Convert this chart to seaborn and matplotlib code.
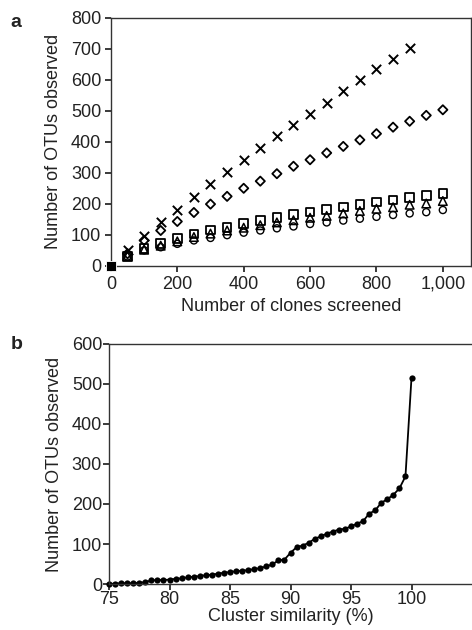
import matplotlib
matplotlib.use('Agg')
import matplotlib.pyplot as plt
import seaborn as sns
import pandas as pd
from matplotlib.ticker import FuncFormatter

# panel a: OTUs vs clones screened
clones = [50, 100, 150, 200, 250, 300, 350, 400, 450, 500,
          550, 600, 650, 700, 750, 800, 850, 900, 950, 1000]
otu_cross = [52, 97, 141, 181, 222, 264, 302, 341, 380, 418,
             453, 491, 526, 563, 598, 633, 667, 701]
otu_diamond = [39, 82, 114, 143, 172, 199, 224, 250, 273, 297,
               321, 342, 364, 385, 406, 426, 447, 466, 485, 503]
otu_square = [30, 56, 72, 88, 102, 115, 124, 136, 146, 155,
              165, 174, 181, 190, 198, 206, 212, 220, 226, 234]
otu_triangle = [32, 52, 65, 79, 93, 104, 114, 123, 131, 140,
                147, 155, 161, 169, 177, 184, 189, 197, 201, 209]
otu_circle = [30, 50, 60, 71, 82, 90, 99, 107, 114, 121,
              127, 135, 140, 146, 152, 158, 164, 169, 173, 180]

# panel b: OTUs vs cluster similarity
similarity = [75, 75.5, 76, 76.5, 77, 77.5, 78, 78.5, 79, 79.5,
              80, 80.5, 81, 81.5, 82, 82.5, 83, 83.5, 84, 84.5,
              85, 85.5, 86, 86.5, 87, 87.5, 88, 88.5, 89, 89.5,
              90, 90.5, 91, 91.5, 92, 92.5, 93, 93.5, 94, 94.5,
              95, 95.5, 96, 96.5, 97, 97.5, 98, 98.5, 99, 99.5, 100]
otu_sim = [0, 1, 2, 2, 2, 3, 5, 9, 10, 10,
           11, 13, 14, 17, 18, 20, 22, 23, 26, 28,
           30, 32, 33, 35, 37, 40, 44, 49, 59, 61,
           78, 92, 96, 103, 113, 119, 126, 131, 136, 138,
           144, 151, 157, 176, 184, 203, 212, 223, 239, 269, 516]

sns.set_theme(style="ticks")
plt.rcParams['font.family'] = ['Liberation Sans', 'DejaVu Sans']
ink = '#222222'
plt.rcParams.update({'text.color': ink, 'axes.labelcolor': ink,
                     'xtick.color': ink, 'ytick.color': ink,
                     'axes.edgecolor': '#333333', 'axes.linewidth': 1.0})
fs = 13

fig = plt.figure(figsize=(4.72, 6.3), dpi=100)
ax1 = fig.add_axes([0.235, 0.578, 0.763, 0.394])
ax2 = fig.add_axes([0.231, 0.073, 0.769, 0.381])

series = [
    (otu_cross, 'x', dict(color='black', linewidth=1.4)),
    (otu_diamond, 'D', dict(facecolor='none', edgecolor='black', linewidth=1.3)),
    (otu_square, 's', dict(facecolor='none', edgecolor='black', linewidth=1.3)),
    (otu_triangle, '^', dict(facecolor='none', edgecolor='black', linewidth=1.1)),
    (otu_circle, 'o', dict(facecolor='none', edgecolor='black', linewidth=1.0)),
]
sizes = {'x': 45, 'D': 22, 's': 38, '^': 38, 'o': 26}
for vals, mk, kw in series:
    df = pd.DataFrame({'clones': clones[:len(vals)], 'otus': vals})
    sns.scatterplot(data=df, x='clones', y='otus', marker=mk, s=sizes[mk],
                    ax=ax1, legend=False, **kw)
sns.scatterplot(x=[0], y=[0], marker='s', s=60, color='black', ax=ax1,
                legend=False, clip_on=False, zorder=5)

ax1.set_xlim(0, 1085)
ax1.set_ylim(0, 800)
ax1.set_xticks([0, 200, 400, 600, 800, 1000])
ax1.set_yticks(range(0, 801, 100))
ax1.xaxis.set_major_formatter(FuncFormatter(lambda v, p: f'{int(v):,}'))
ax1.set_xlabel('Number of clones screened', fontsize=fs, labelpad=4)
ax1.set_ylabel('Number of OTUs observed', fontsize=fs, labelpad=6)
ax1.tick_params(labelsize=fs, length=4, pad=3)

df_b = pd.DataFrame({'sim': similarity, 'otus': otu_sim})
sns.lineplot(data=df_b, x='sim', y='otus', ax=ax2, color='black',
             linewidth=1.3, marker='o', markersize=4.5, markeredgewidth=0,
             clip_on=False)
ax2.set_xlim(75, 105)
ax2.set_ylim(0, 600)
ax2.set_xticks([75, 80, 85, 90, 95, 100])
ax2.set_yticks(range(0, 601, 100))
ax2.spines['right'].set_visible(False)
ax2.set_xlabel('Cluster similarity (%)', fontsize=fs, labelpad=0)
ax2.set_ylabel('Number of OTUs observed', fontsize=fs, labelpad=6)
ax2.tick_params(labelsize=fs, length=4, pad=1)

fig.text(0.022, 0.978, 'a', fontsize=14, fontweight='bold', va='top')
fig.text(0.022, 0.466, 'b', fontsize=14, fontweight='bold', va='top')

fig.savefig('out.png', dpi=100)
